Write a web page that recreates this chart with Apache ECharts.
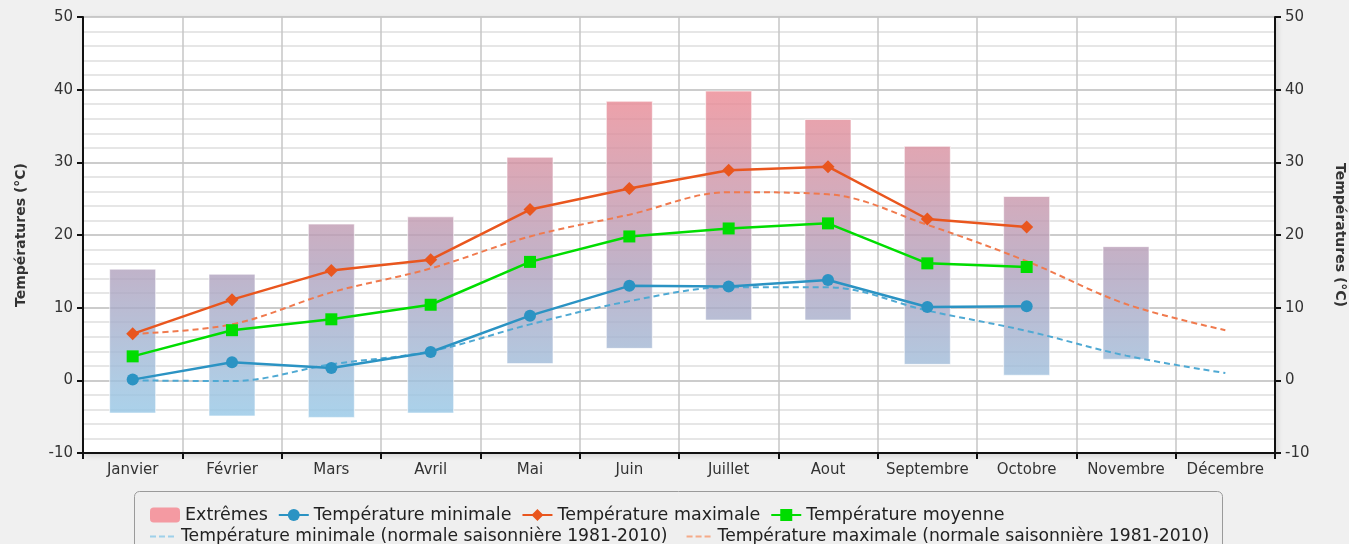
<!DOCTYPE html>
<html>
<head>
<meta charset="utf-8">
<script src="https://cdn.jsdelivr.net/npm/echarts@6/dist/echarts.min.js"></script>
<style>
html,body{margin:0;padding:0;background:#f0f0f0;}
#chart{width:1349px;height:544px;}
</style>
</head>
<body>
<div id="chart"></div>
<script>
var months = ['Janvier','Février','Mars','Avril','Mai','Juin','Juillet','Aout','Septembre','Octobre','Novembre','Décembre'];
var extremeMin = [-4.5, -4.9, -5.1, -4.5, 2.3, 4.4, 8.3, 8.3, 2.2, 0.7, 2.9, null];
var extremeMax = [15.3, 14.6, 21.5, 22.5, 30.7, 38.4, 39.8, 35.9, 32.2, 25.3, 18.4, null];
var tempMin = [0.1, 2.5, 1.7, 3.9, 8.9, 13.0, 12.9, 13.8, 10.1, 10.2, null, null];
var tempMax = [6.4, 11.1, 15.1, 16.6, 23.5, 26.4, 28.9, 29.4, 22.2, 21.1, null, null];
var tempMoy = [3.3, 6.9, 8.4, 10.4, 16.3, 19.8, 20.9, 21.6, 16.1, 15.6, null, null];
var normMin = [0.0, -0.1, 2.2, 4.0, 7.7, 10.9, 12.8, 12.8, 9.6, 6.8, 3.4, 1.0];
var normMax = [6.4, 7.7, 12.1, 15.4, 19.8, 22.8, 25.9, 25.6, 21.4, 16.4, 10.5, 6.9];

var chart = echarts.init(document.getElementById('chart'));
var FONT = 'DejaVu Sans';
var DASH_ICON = 'path://M0,0h6v2h-6zM9,0h6v2h-6zM18,0h6v2h-6z';

var extremesData = [];
for (var i = 0; i < months.length; i++) {
  if (extremeMin[i] != null) extremesData.push([i, extremeMin[i], extremeMax[i]]);
}

function yAxisCfg(pos) {
  return {
    type: 'value', position: pos, min: -10, max: 50, interval: 10,
    name: 'Températures (°C)', nameLocation: 'middle', nameGap: pos === 'left' ? 55 : 58,
    nameRotate: pos === 'left' ? 90 : -90,
    nameTextStyle: {fontFamily: FONT, fontSize: 14, fontWeight: 'bold', color: '#333'},
    axisLine: {show: true, onZero: false, lineStyle: {color: '#111', width: 2}},
    axisTick: {show: true, length: 6, lineStyle: {color: '#111', width: 2}},
    axisLabel: {fontFamily: FONT, fontSize: 15, color: '#333', margin: 10},
    splitLine: {show: pos === 'left', lineStyle: {color: '#bbbbbb', width: 1.5}},
    minorTick: {show: false, splitNumber: 5},
    minorSplitLine: {show: pos === 'left', lineStyle: {color: '#dedede', width: 1.5}}
  };
}

var option = {
  backgroundColor: 'transparent',
  animation: false,
  grid: {left: 83, right: 74, top: 17, bottom: 91, show: true, backgroundColor: '#ffffff', borderWidth: 0,
         outerBoundsMode: 'none', containLabel: false,
         shadowBlur: 6, shadowColor: 'rgba(0,0,0,0.15)', shadowOffsetX: 2, shadowOffsetY: 2},
  graphic: [{
    type: 'rect', left: 134, top: 491, z: -1,
    shape: {width: 1088, height: 70, r: 5},
    style: {fill: '#efefef', stroke: '#9a9a9a', lineWidth: 1}
  }],
  legend: [{
    left: 145, top: 501, itemGap: 10, itemWidth: 30, itemHeight: 15,
    textStyle: {fontFamily: FONT, fontSize: 17.5, color: '#222'},
    data: [{name: 'Extrêmes', icon: 'roundRect', itemStyle: {color: '#f49aa2'}},
           'Température minimale', 'Température maximale', 'Température moyenne']
  }, {
    left: 145, top: 523, itemGap: 19, itemWidth: 28, itemHeight: 2,
    textStyle: {fontFamily: FONT, fontSize: 17.2, color: '#222'},
    data: [{name: 'Température minimale (normale saisonnière 1981-2010)', icon: DASH_ICON, itemStyle: {color: '#9dd0ea'}},
           {name: 'Température maximale (normale saisonnière 1981-2010)', icon: DASH_ICON, itemStyle: {color: '#f5aa88'}}]
  }],
  xAxis: {
    type: 'category', data: months, boundaryGap: true,
    axisLine: {onZero: false, lineStyle: {color: '#111', width: 2}},
    axisTick: {show: true, interval: 0, length: 6, lineStyle: {color: '#111', width: 2}},
    axisLabel: {interval: 0, fontFamily: FONT, fontSize: 15, color: '#333', margin: 10},
    splitLine: {show: true, interval: 0, lineStyle: {color: '#c6c6c6', width: 1.5}}
  },
  yAxis: [yAxisCfg('left'), yAxisCfg('right')],
  series: [{
    name: 'Extrêmes', type: 'custom', data: extremesData, z: 1,
    encode: {x: 0, y: [1, 2]},
    itemStyle: {color: '#f49aa2'},
    renderItem: function (params, api) {
      var x = api.value(0), lo = api.value(1), hi = api.value(2);
      var pHi = api.coord([x, hi]), pLo = api.coord([x, lo]);
      var w = api.size([1, 0])[0] * 0.463;
      var yTop = api.coord([0, 40])[1], yBot = api.coord([0, -5])[1];
      return {
        type: 'rect',
        shape: {x: pHi[0] - w / 2, y: pHi[1], width: w, height: pLo[1] - pHi[1]},
        style: {
          fill: new echarts.graphic.LinearGradient(0, yTop, 0, yBot, [
            {offset: 0, color: 'rgba(236,136,146,0.8)'},
            {offset: 0.55, color: 'rgba(176,160,188,0.8)'},
            {offset: 0.89, color: 'rgba(156,191,221,0.8)'},
            {offset: 1, color: 'rgba(149,199,230,0.8)'}
          ], true),
          stroke: 'rgba(255,255,255,0.6)', lineWidth: 1
        }
      };
    }
  }, {
    name: 'Température minimale', type: 'line', data: tempMin, z: 4,
    symbol: 'circle', symbolSize: 12,
    lineStyle: {color: '#2b93c3', width: 2.5}, itemStyle: {color: '#2b93c3'}
  }, {
    name: 'Température maximale', type: 'line', data: tempMax, z: 4,
    symbol: 'diamond', symbolSize: 13,
    lineStyle: {color: '#e9561e', width: 2.5}, itemStyle: {color: '#e9561e'}
  }, {
    name: 'Température moyenne', type: 'line', data: tempMoy, z: 4,
    symbol: 'rect', symbolSize: 12,
    lineStyle: {color: '#00dd00', width: 2.5}, itemStyle: {color: '#00dd00'}
  }, {
    name: 'Température minimale (normale saisonnière 1981-2010)', type: 'line', data: normMin, z: 3,
    symbol: 'none', smooth: 0.35,
    lineStyle: {color: '#4fa9d3', width: 2, type: [6, 4]}, itemStyle: {color: '#4fa9d3'}
  }, {
    name: 'Température maximale (normale saisonnière 1981-2010)', type: 'line', data: normMax, z: 3,
    symbol: 'none', smooth: 0.35,
    lineStyle: {color: '#f07a4e', width: 2, type: [6, 4]}, itemStyle: {color: '#f07a4e'}
  }]
};
chart.setOption(option);
</script>
</body>
</html>
